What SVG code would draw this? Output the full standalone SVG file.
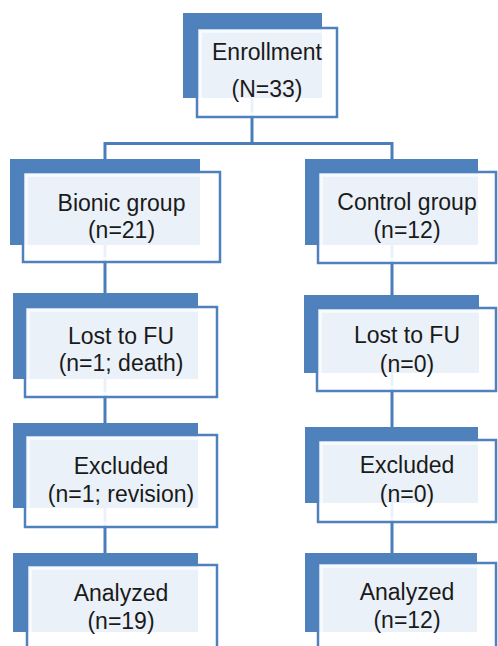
<svg xmlns="http://www.w3.org/2000/svg" width="498" height="646" viewBox="0 0 498 646">
<style>
.back{fill:#4f81bd}
.front{fill:#ffffff;fill-opacity:0.89;stroke:#4f81bd;stroke-width:2.5}
.inner{fill:none;stroke:#ffffff;stroke-opacity:0.7;stroke-width:2.5}
.t{font-family:"Liberation Sans",Arial,sans-serif;font-size:23px;fill:#1a1a1a;text-anchor:middle}
.c{fill:none;stroke:#4a7ebb;stroke-width:3;stroke-linejoin:miter;stroke-linecap:butt}
</style>
<rect width="498" height="646" fill="#ffffff"/>
<g id="connectors">
<path class="c" d="M252,60 V143.5 M105,159 V143.5 H392 V159"/>
<path class="c" d="M105,200 V293 M105,340 V423 M105,470 V553"/>
<path class="c" d="M392,200 V295 M392,340 V427 M392,470 V553"/>
</g>
<g id="enrollment">
<rect class="back" x="183" y="13" width="139" height="85"/>
<rect class="front" x="197" y="28" width="140" height="89"/>
<rect class="inner" x="200.5" y="31.5" width="133" height="82"/>
<text class="t" x="267" y="60">Enrollment</text>
<text class="t" x="267" y="97">(N=33)</text>
</g>
<g id="bionic">
<rect class="back" x="10" y="159" width="190" height="86"/>
<rect class="front" x="23" y="172" width="197" height="90"/>
<rect class="inner" x="26.5" y="175.5" width="190" height="83"/>
<text class="t" x="121.5" y="211">Bionic group</text>
<text class="t" x="121.5" y="238">(n=21)</text>
</g>
<g id="control">
<rect class="back" x="305" y="159" width="173" height="86"/>
<rect class="front" x="318" y="172" width="178" height="91"/>
<rect class="inner" x="321.5" y="175.5" width="171" height="84"/>
<text class="t" x="407" y="210">Control group</text>
<text class="t" x="407" y="238">(n=12)</text>
</g>
<g id="lost-bionic">
<rect class="back" x="13" y="293" width="185" height="86"/>
<rect class="front" x="25" y="307" width="192" height="90"/>
<rect class="inner" x="28.5" y="310.5" width="185" height="83"/>
<text class="t" x="121" y="344">Lost to FU</text>
<text class="t" x="121" y="371">(n=1; death)</text>
</g>
<g id="lost-control">
<rect class="back" x="304" y="295" width="175" height="78"/>
<rect class="front" x="317" y="308" width="179" height="83"/>
<rect class="inner" x="320.5" y="311.5" width="172" height="76"/>
<text class="t" x="407" y="343">Lost to FU</text>
<text class="t" x="407" y="372">(n=0)</text>
</g>
<g id="excluded-bionic">
<rect class="back" x="13" y="423" width="185" height="85"/>
<rect class="front" x="25" y="435" width="192" height="92"/>
<rect class="inner" x="28.5" y="438.5" width="185" height="85"/>
<text class="t" x="121" y="474">Excluded</text>
<text class="t" x="121" y="502">(n=1; revision)</text>
</g>
<g id="excluded-control">
<rect class="back" x="305" y="427" width="173" height="76"/>
<rect class="front" x="318" y="440" width="178" height="82"/>
<rect class="inner" x="321.5" y="443.5" width="171" height="75"/>
<text class="t" x="407" y="473">Excluded</text>
<text class="t" x="407" y="502">(n=0)</text>
</g>
<g id="analyzed-bionic">
<rect class="back" x="13" y="553" width="185" height="79"/>
<rect class="front" x="27" y="565" width="190" height="90"/>
<rect class="inner" x="30.5" y="568.5" width="183" height="83"/>
<text class="t" x="121" y="601">Analyzed</text>
<text class="t" x="121" y="629">(n=19)</text>
</g>
<g id="analyzed-control">
<rect class="back" x="305" y="553" width="172" height="79"/>
<rect class="front" x="318" y="563" width="178" height="90"/>
<rect class="inner" x="321.5" y="566.5" width="171" height="83"/>
<text class="t" x="407" y="600">Analyzed</text>
<text class="t" x="407" y="628">(n=12)</text>
</g>
</svg>
